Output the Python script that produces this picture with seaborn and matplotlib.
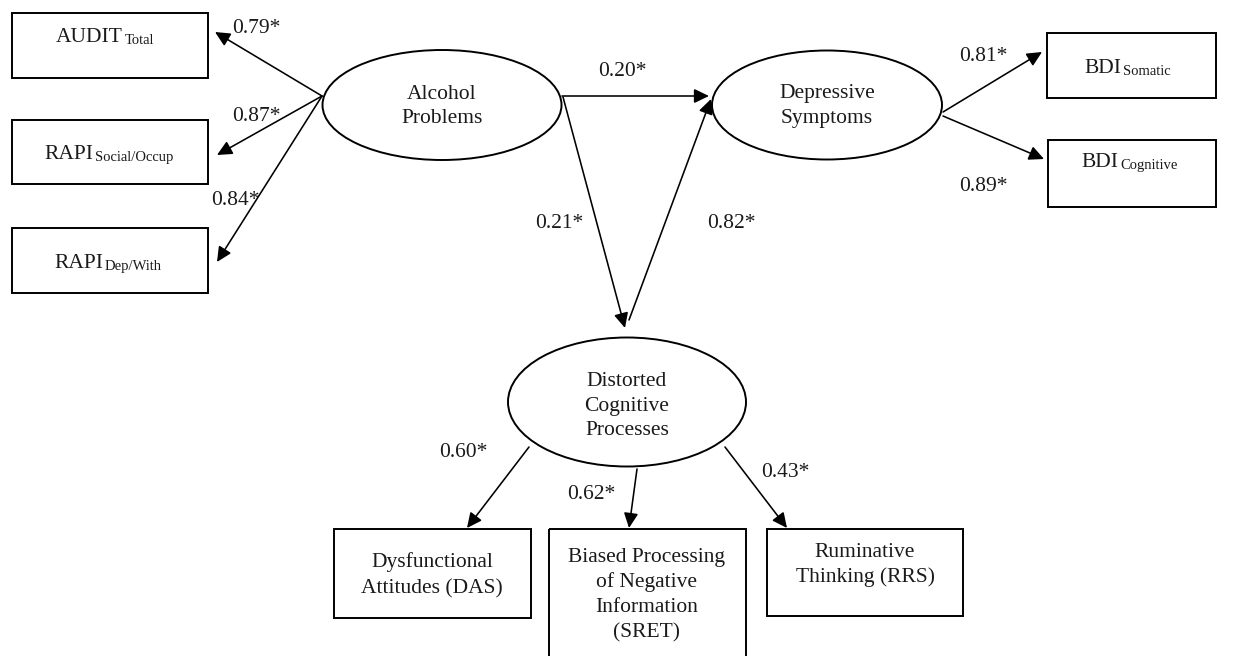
import matplotlib
matplotlib.use("Agg")
import matplotlib.pyplot as plt
import seaborn as sns
from matplotlib.patches import Ellipse, Rectangle, FancyArrowPatch

# ---------------- data ----------------
latent_labels = ["Alcohol\nProblems", "Depressive\nSymptoms", "Distorted\nCognitive\nProcesses"]
alcohol_indicators = [("AUDIT", "Total"), ("RAPI", "Social/Occup"), ("RAPI", "Dep/With")]
alcohol_loadings = [0.79, 0.87, 0.84]
depression_indicators = [("BDI", "Somatic"), ("BDI", "Cognitive")]
depression_loadings = [0.81, 0.89]
cognitive_indicators = ["Dysfunctional\nAttitudes (DAS)",
                        "Biased Processing\nof Negative\nInformation\n(SRET)",
                        "Ruminative\nThinking (RRS)"]
cognitive_loadings = [0.60, 0.62, 0.43]
structural_labels = ["Alcohol→Depressive", "Alcohol→Distorted", "Distorted→Depressive"]
structural_paths = [0.20, 0.21, 0.82]

# ---------------- layout (pixel space) ----------------
sns.set_theme(style="white")
plt.rcParams["font.family"] = ["Liberation Serif", "DejaVu Serif"]
FS = 15.5
SUB = 10.5
LW_BOX = 1.4
LW_ARR = 1.15
TXT = "#1a1a1a"

fig = plt.figure(figsize=(12.37, 6.56), dpi=100)
ax = fig.add_axes([0, 0, 1, 1])
ax.set_xlim(0, 1237)
ax.set_ylim(656, 0)
ax.axis("off")

def fmt(v):
    return f"{v:.2f}*"

def box(x0, y0, x1, y1):
    ax.add_patch(Rectangle((x0, y0), x1 - x0, y1 - y0, fill=False,
                           ec="black", lw=LW_BOX))

def ellipse(cx, cy, w, h):
    ax.add_patch(Ellipse((cx, cy), w, h, fill=False, ec="black", lw=LW_BOX))

def lines(text, cx, baselines):
    for t, b in zip(text.split("\n"), baselines):
        ax.text(cx, b, t, ha="center", va="baseline", fontsize=FS, color=TXT)

def sublabel(main, sub, x_split, base):
    ax.text(x_split - 1, base, main, ha="right", va="baseline", fontsize=FS, color=TXT)
    ax.text(x_split + 1, base + 2, sub, ha="left", va="baseline", fontsize=SUB, color=TXT)

def arrow(p0, p1):
    a = FancyArrowPatch(p0, p1, arrowstyle="-|>,head_length=0.5,head_width=0.24",
                        mutation_scale=18, shrinkA=0, shrinkB=0,
                        color="black", lw=LW_ARR)
    ax.add_patch(a)

def coef(v, x, base):
    ax.text(x, base, fmt(v), ha="left", va="baseline", fontsize=FS, color=TXT)

# latent variables
ellipse(442, 105, 239, 110)
lines(latent_labels[0], 442, [99, 123])
ellipse(827, 105, 230, 109)
lines(latent_labels[1], 827, [98, 123])
ellipse(627, 402, 238, 129)
lines(latent_labels[2], 627, [386, 411, 435])

# alcohol indicators
alc_boxes = [(12, 13, 208, 78), (12, 120, 208, 184), (12, 228, 208, 293)]
alc_split = [124, 94, 104]
alc_base = [42, 159, 268]
alc_tips = [(215, 32), (217, 155), (217, 262)]
alc_coef_pos = [(232, 33), (232, 121), (211, 205)]
for (nm, sb), b, s, bl, tip, cp, v in zip(alcohol_indicators, alc_boxes, alc_split,
                                          alc_base, alc_tips, alc_coef_pos, alcohol_loadings):
    box(*b)
    sublabel(nm, sb, s, bl)
    arrow((322, 96), tip)
    coef(v, *cp)

# depression indicators
dep_boxes = [(1047, 33, 1216, 98), (1048, 140, 1216, 207)]
dep_split = [1122, 1119]
dep_base = [73, 167]
dep_tips = [(1042, 52), (1044, 159)]
dep_starts = [(943, 112), (943, 116)]
dep_coef_pos = [(959, 61), (959, 191)]
for (nm, sb), b, s, bl, st, tip, cp, v in zip(depression_indicators, dep_boxes, dep_split,
                                              dep_base, dep_starts, dep_tips, dep_coef_pos,
                                              depression_loadings):
    box(*b)
    sublabel(nm, sb, s, bl)
    arrow(st, tip)
    coef(v, *cp)

# cognitive indicators
cog_boxes = [(334, 529, 531, 618), (549, 529, 746, 662), (767, 529, 963, 616)]
cog_cx = [432, 647, 865]
cog_base = [[567, 593], [562, 587, 612, 637], [557, 582]]
cog_starts = [(529, 447), (637, 469), (725, 447)]
cog_tips = [(467, 528), (629, 528), (787, 528)]
cog_coef_pos = [(439, 457), (567, 499), (761, 477)]
for t, b, cx, bl, st, tip, cp, v in zip(cognitive_indicators, cog_boxes, cog_cx, cog_base,
                                        cog_starts, cog_tips, cog_coef_pos, cognitive_loadings):
    box(*b)
    lines(t, cx, bl)
    arrow(st, tip)
    coef(v, *cp)

# structural paths
struct_starts = [(562, 96), (563, 97), (629, 320)]
struct_tips = [(709, 96), (625, 328), (711, 99)]
struct_coef_pos = [(598, 76), (535, 228), (707, 228)]
for st, tip, cp, v in zip(struct_starts, struct_tips, struct_coef_pos, structural_paths):
    arrow(st, tip)
    coef(v, *cp)

fig.savefig("out.png", dpi=100, facecolor="white")
